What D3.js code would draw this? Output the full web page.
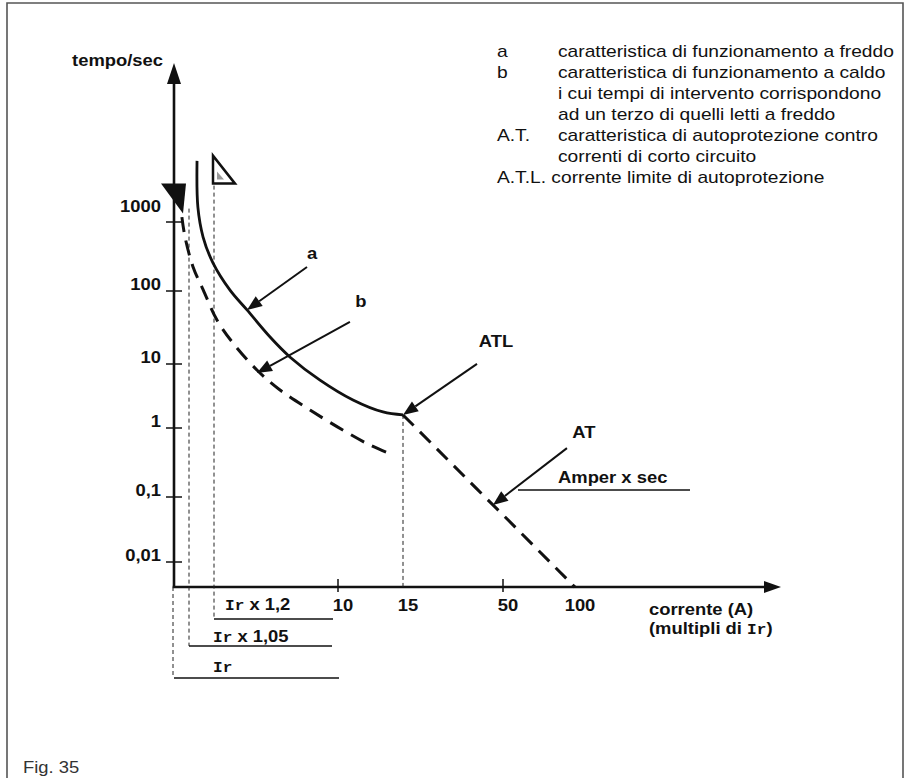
<!DOCTYPE html>
<html><head><meta charset="utf-8">
<script src="https://cdn.jsdelivr.net/npm/d3@7"></script>
<style>
html,body{margin:0;padding:0;background:#fff;}
svg text{font-family:"Liberation Sans",Arial,sans-serif;fill:#111;}
</style></head>
<body>
<svg id="chart" width="909" height="778"></svg>
<script>
// ---- data ----
const yTicks = [0.01, 0.1, 1, 10, 100, 1000];
const yTickLabels = ["0,01", "0,1", "1", "10", "100", "1000"];
const xTicks = [10, 15, 50, 100];
const xTickLabels = ["10", "15", "50", "100"];
const xTickMarks = [10, 50];
// curve a (cold)
const curveA_I = [1.096, 1.101, 1.132, 1.194, 1.578, 2.11, 3.13, 4.39, 7.35, 10.98, 13.24, 15];
const curveA_t = [7690, 1637, 606, 254, 103, 55, 23.4, 12.5, 5.6, 2.74, 1.78, 1.6];
// curve b (hot)
const curveB_I = [1.026, 1.0365, 1.073, 1.132, 1.263, 1.66, 2.5, 3.71, 6.2, 10.3, 12.2, 14.1];
const curveB_t = [1179, 606, 223, 105, 40, 19.4, 8.06, 3.92, 1.91, 0.935, 0.567, 0.406];
// A.T. self protection line
const curveAT_I = [15, 36.6, 50, 100];
const curveAT_t = [1.6, 0.13, 0.053, 0.0041];
const markerTime = 3600;
const legendKeys = ["a", "b", "", "", "A.T.", "", ""];
const legendTexts = [
  "caratteristica di funzionamento a freddo",
  "caratteristica di funzionamento a caldo",
  "i cui tempi di intervento corrispondono",
  "ad un terzo di quelli letti a freddo",
  "caratteristica di autoprotezione contro",
  "correnti di corto circuito",
  "A.T.L. corrente limite di autoprotezione"
];
const annotLabels = ["a", "b", "ATL", "AT"];
const annotI = [2.11, 2.5, 15, 44.3];
const annotT = [55, 7.24, 1.6, 0.075];
const multRows = ["x 1,2", "x 1,05", ""];
const multFrom = [1.2, 1.05, 1];

// ---- scales (schematic, piecewise logarithmic) ----
const x = d3.scaleLog().domain([1, 1.05, 1.2, 10, 15, 50, 100]).range([174, 189, 214, 338, 403, 503, 575]);
const y = d3.scaleLog().domain([0.01, 0.1, 1, 10, 100, 1000]).range([562, 497, 428, 364, 291, 222]);

const svg = d3.select("#chart");
const axisX0 = 174, axisY0 = 587;
const SX = 1.15;
const FS = 16;

function txt(g, px, py, s, size, weight, anchor, sx) {
  return g.append("text")
    .attr("transform", `translate(${px},${py}) scale(${sx || SX},1)`)
    .attr("text-anchor", anchor || "start")
    .style("font-size", size + "px")
    .style("font-weight", weight || "normal")
    .text(s);
}

// frame
svg.append("path").attr("d", "M7,778V3H903V778").attr("fill", "none").attr("stroke", "#555").attr("stroke-width", 1.6);
txt(svg, 23, 773, "Fig. 35", FS, "normal", "start").style("fill", "#333");

// axes
svg.append("line").attr("x1", axisX0).attr("x2", axisX0).attr("y1", axisY0).attr("y2", 80)
  .attr("stroke", "#111").attr("stroke-width", 2.6);
svg.append("path").attr("d", `M${axisX0},63L${axisX0 - 7},84L${axisX0 + 7},84Z`).attr("fill", "#111");
svg.append("line").attr("x1", axisX0 - 1.3).attr("x2", 768).attr("y1", axisY0).attr("y2", axisY0)
  .attr("stroke", "#111").attr("stroke-width", 2.6);
svg.append("path").attr("d", `M781,${axisY0}L764,${axisY0 - 6}L764,${axisY0 + 6}Z`).attr("fill", "#111");

// y ticks
const yt = svg.append("g");
yTicks.forEach((v, i) => {
  yt.append("line").attr("x1", axisX0 - 8).attr("x2", axisX0 + 8).attr("y1", y(v)).attr("y2", y(v))
    .attr("stroke", "#111").attr("stroke-width", 1.5);
  const dy = i === yTicks.length - 1 ? -10 : -1;
  txt(yt, 161, y(v) + dy, yTickLabels[i], FS, "bold", "end");
});
// x ticks
const xt = svg.append("g");
xTickMarks.forEach(v => {
  xt.append("line").attr("x1", x(v)).attr("x2", x(v)).attr("y1", axisY0 - 8).attr("y2", axisY0 + 5)
    .attr("stroke", "#111").attr("stroke-width", 1.5);
});
xTicks.forEach((v, i) => txt(xt, x(v) + 5, 611, xTickLabels[i], FS, "bold", "middle"));

txt(svg, 163, 66, "tempo/sec", FS, "bold", "end");
const cl = svg.append("g");
txt(cl, 649, 615, "corrente (A)", FS, "bold");
const t2 = cl.append("text").attr("transform", `translate(649,634) scale(${SX},1)`)
  .style("font-size", FS + "px").style("font-weight", "bold");
t2.append("tspan").text("(multipli di ");
t2.append("tspan").style("font-family", "'Liberation Mono',monospace").style("font-size", "14px").text("Ir");
t2.append("tspan").text(")");

// thin dashed reference lines
const ref = svg.append("g").attr("stroke", "#222").attr("stroke-width", 1).attr("stroke-dasharray", "4,3").attr("fill", "none");
const underY = [619, 646, 678];
const underEnd = [333, 332, 339];
ref.append("line").attr("x1", x(1.05)).attr("x2", x(1.05)).attr("y1", y(markerTime) + 25).attr("y2", underY[1]);
ref.append("line").attr("x1", x(1.2)).attr("x2", x(1.2)).attr("y1", y(markerTime) + 2).attr("y2", underY[0]);
ref.append("line").attr("x1", x(1) - 1).attr("x2", x(1) - 1).attr("y1", axisY0).attr("y2", underY[2]);
ref.append("line").attr("x1", x(15)).attr("x2", x(15)).attr("y1", y(1.6)).attr("y2", axisY0);

// multiplier rows
const mr = svg.append("g");
const textX = [225, 213, 213];
const textY = [610, 642, 672];
multRows.forEach((s, i) => {
  mr.append("line").attr("x1", x(multFrom[i])).attr("x2", underEnd[i]).attr("y1", underY[i]).attr("y2", underY[i])
    .attr("stroke", "#111").attr("stroke-width", 1.3);
  const t = mr.append("text").attr("transform", `translate(${textX[i]},${textY[i]}) scale(${SX},1)`)
    .style("font-size", FS + "px").style("font-weight", "bold");
  t.append("tspan").style("font-family", "'Liberation Mono',monospace").style("font-size", "14px").text("Ir");
  if (s) t.append("tspan").text(" " + s);
});

// curves
const line = d3.line().x(d => x(d[0])).y(d => y(d[1])).curve(d3.curveCatmullRom.alpha(0.5));
svg.append("path").attr("d", line(curveA_I.map((v, i) => [v, curveA_t[i]])))
  .attr("fill", "none").attr("stroke", "#111").attr("stroke-width", 2.8);
svg.append("path").attr("d", line(curveB_I.map((v, i) => [v, curveB_t[i]])))
  .attr("fill", "none").attr("stroke", "#111").attr("stroke-width", 3).attr("stroke-dasharray", "15,9");
svg.append("path").attr("d", d3.line().x(d => x(d[0])).y(d => y(d[1]))(curveAT_I.map((v, i) => [v, curveAT_t[i]])))
  .attr("fill", "none").attr("stroke", "#111").attr("stroke-width", 3).attr("stroke-dasharray", "15,9");

// markers
const mY = y(markerTime), bx = x(1.05), ox = x(1.2);
svg.append("path").attr("d", `M${bx - 28},${mY}L${bx - 3},${mY}L${bx - 6},${mY + 30}Z`).attr("fill", "#111");
svg.append("path").attr("d", `M${ox - 1},${mY - 28}L${ox - 1},${mY}L${ox + 21},${mY}Z`)
  .attr("fill", "#fff").attr("stroke", "#111").attr("stroke-width", 2.5).attr("stroke-linejoin", "miter");
svg.append("path").attr("d", `M${ox + 3},${mY - 4}L${ox + 3},${mY - 12}L${ox + 10},${mY - 4}Z`).attr("fill", "#999");

// annotation arrows
const tailOff = [[60, -43], [93, -51], [74, -51], [74, -57]];
const labOff = [[65, -51], [104, -66], [93, -68], [91, -67]];
const an = svg.append("g");
annotLabels.forEach((lab, i) => {
  const tx = x(annotI[i]), ty = y(annotT[i]);
  const sx = tx + tailOff[i][0], sy = ty + tailOff[i][1];
  const ang = Math.atan2(ty - sy, tx - sx);
  const L = 15, W = 6;
  const bxp = tx - L * Math.cos(ang), byp = ty - L * Math.sin(ang);
  an.append("line").attr("x1", sx).attr("y1", sy).attr("x2", bxp).attr("y2", byp).attr("stroke", "#111").attr("stroke-width", 2);
  an.append("path").attr("d", `M${tx},${ty}L${bxp + W * Math.sin(ang)},${byp - W * Math.cos(ang)}L${bxp - W * Math.sin(ang)},${byp + W * Math.cos(ang)}Z`).attr("fill", "#111");
  txt(an, tx + labOff[i][0], ty + labOff[i][1], lab, FS, "bold", "middle");
});
// Amper x sec
txt(an, 558, 483, "Amper x sec", FS, "bold");
an.append("line").attr("x1", 518).attr("x2", 690).attr("y1", 490).attr("y2", 490).attr("stroke", "#111").attr("stroke-width", 1.3);

// legend
const lg = svg.append("g");
legendTexts.forEach((s, i) => {
  const yy = 57 + i * 21;
  if (i === legendTexts.length - 1) { txt(lg, 497, yy, s, FS, "normal", "start", 1.2); return; }
  if (legendKeys[i]) txt(lg, 497, yy, legendKeys[i], FS, "normal", "start", 1.2);
  txt(lg, 558, yy, s, FS, "normal", "start", 1.2);
});
</script>
</body></html>
